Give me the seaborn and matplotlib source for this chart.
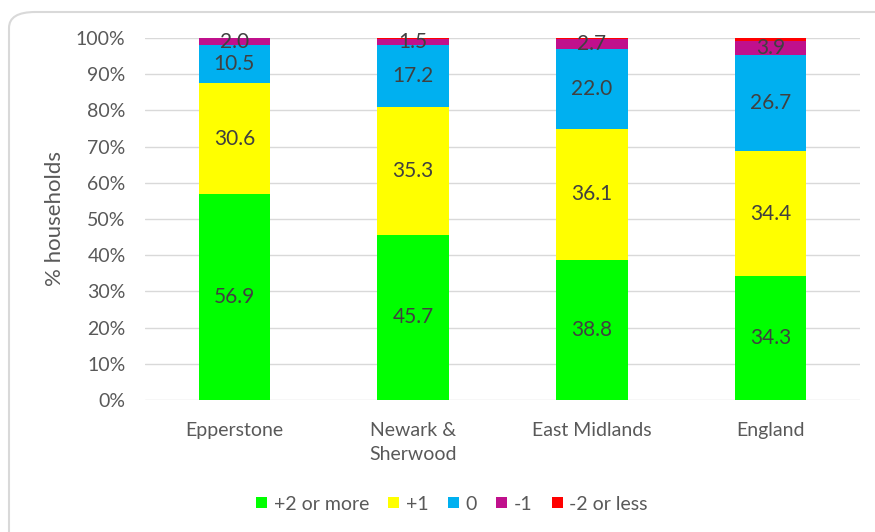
import matplotlib
matplotlib.use("Agg")
import matplotlib.pyplot as plt
import seaborn as sns
import numpy as np
from matplotlib.patches import FancyBboxPatch

areas = ["Epperstone", "Newark &\nSherwood", "East Midlands", "England"]
series = ["+2 or more", "+1", "0", "-1", "-2 or less"]
plus2 = [56.9, 45.7, 38.8, 34.3]
plus1 = [30.6, 35.3, 36.1, 34.4]
zero = [10.5, 17.2, 22.0, 26.7]
minus1 = [2.0, 1.5, 2.7, 3.9]
minus2 = [0.0, 0.3, 0.4, 0.7]
colors = ["#00ff00", "#ffff00", "#00b0f0", "#c0108c", "#ff0000"]

sns.set_theme(style="white")
plt.rcParams["font.family"] = ["Lato", "DejaVu Sans"]

fig = plt.figure(figsize=(8.75, 5.32), dpi=100)
ax = fig.add_axes([145 / 875, 1 - 400 / 532, 715 / 875, 362 / 532])

# rounded frame around the chart
frame = FancyBboxPatch((9 / 875, -0.05), 1.2, 1.0 - 12 / 532 + 0.05,
                       boxstyle="round,pad=0,rounding_size=0.03",
                       transform=fig.transFigure, fill=False,
                       edgecolor="#d9d9d9", linewidth=1.5, zorder=0)
fig.patches.append(frame)

bottom = np.zeros(len(areas))
for name, vals, col in zip(series, [plus2, plus1, zero, minus1, minus2], colors):
    sns.barplot(x=areas, y=vals, bottom=bottom, color=col, width=0.4,
                saturation=1, label=name, ax=ax, zorder=3, linewidth=0)
    if name != "-2 or less":
        for i, v in enumerate(vals):
            ax.text(i, bottom[i] + v / 2, f"{v:.1f}", ha="center", va="center",
                    fontsize=15, color="#404040", zorder=4)
    bottom = bottom + np.array(vals)

ax.set_ylim(0, 100)
ax.set_xlim(-0.5, 3.5)
ax.set_yticks(np.arange(0, 101, 10))
ax.set_yticklabels([f"{t}%" for t in range(0, 101, 10)])
ax.set_xticks(range(len(areas)))
ax.set_xticklabels(areas, linespacing=1.45, multialignment="center")
ax.yaxis.grid(True, color="#d9d9d9", linewidth=1, zorder=0)
ax.set_axisbelow(True)
for s in ax.spines.values():
    s.set_visible(False)
ax.tick_params(axis="both", length=0, labelsize=14, colors="#595959")
ax.tick_params(axis="x", pad=16)
ax.tick_params(axis="y", pad=14)
ax.set_ylabel("% households", fontsize=16, color="#595959", labelpad=8)
ax.set_xlabel("")
if ax.legend_:
    ax.legend_.remove()

handles, labels = ax.get_legend_handles_labels()
fig.legend(handles, labels, loc="center", bbox_to_anchor=(452 / 875, 1 - 504 / 532),
           ncol=5, frameon=False, fontsize=14, handlelength=0.55, handleheight=0.55,
           handletextpad=0.35, columnspacing=1.0, labelcolor="#595959")

fig.savefig("out.png", dpi=100)
